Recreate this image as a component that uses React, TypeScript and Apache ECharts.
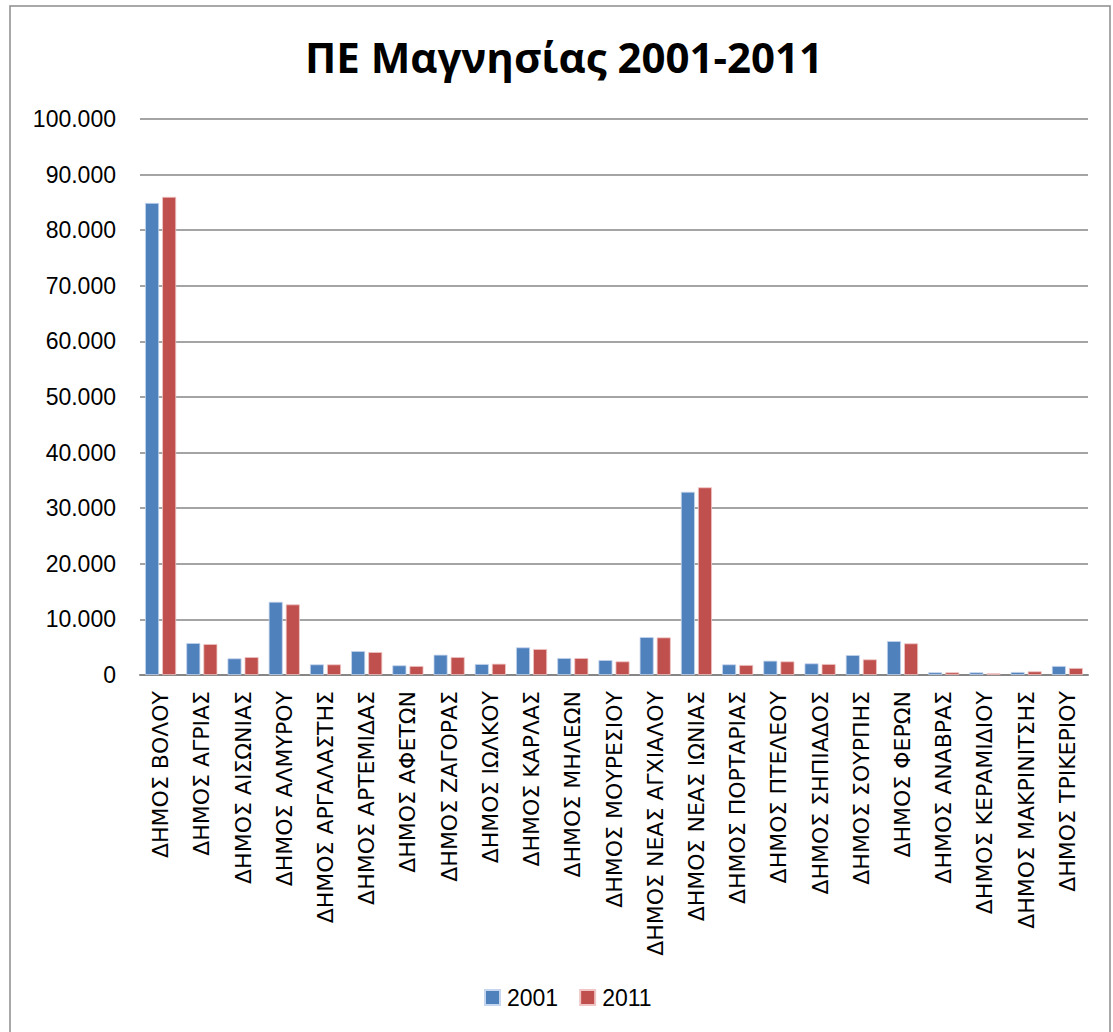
import React, { useEffect, useRef } from "react";
import * as echarts from "echarts";

const categories = [
  "ΔΗΜΟΣ ΒΟΛΟΥ", "ΔΗΜΟΣ ΑΓΡΙΑΣ", "ΔΗΜΟΣ ΑΙΣΩΝΙΑΣ", "ΔΗΜΟΣ ΑΛΜΥΡΟΥ", "ΔΗΜΟΣ ΑΡΓΑΛΑΣΤΗΣ",
  "ΔΗΜΟΣ ΑΡΤΕΜΙΔΑΣ", "ΔΗΜΟΣ ΑΦΕΤΩΝ", "ΔΗΜΟΣ ΖΑΓΟΡΑΣ", "ΔΗΜΟΣ ΙΩΛΚΟΥ", "ΔΗΜΟΣ ΚΑΡΛΑΣ",
  "ΔΗΜΟΣ ΜΗΛΕΩΝ", "ΔΗΜΟΣ ΜΟΥΡΕΣΙΟΥ", "ΔΗΜΟΣ ΝΕΑΣ ΑΓΧΙΑΛΟΥ", "ΔΗΜΟΣ ΝΕΑΣ ΙΩΝΙΑΣ", "ΔΗΜΟΣ ΠΟΡΤΑΡΙΑΣ",
  "ΔΗΜΟΣ ΠΤΕΛΕΟΥ", "ΔΗΜΟΣ ΣΗΠΙΑΔΟΣ", "ΔΗΜΟΣ ΣΟΥΡΠΗΣ", "ΔΗΜΟΣ ΦΕΡΩΝ", "ΔΗΜΟΣ ΑΝΑΒΡΑΣ",
  "ΔΗΜΟΣ ΚΕΡΑΜΙΔΙΟΥ", "ΔΗΜΟΣ ΜΑΚΡΙΝΙΤΣΗΣ", "ΔΗΜΟΣ ΤΡΙΚΕΡΙΟΥ",
];

const values2001 = [
  84900, 5750, 2990, 13170, 1910, 4310, 1740, 3650, 1975, 4970, 3050, 2690,
  6820, 32950, 1910, 2570, 2090, 3590, 6100, 480, 480, 540, 1620,
];

const values2011 = [
  86000, 5570, 3230, 12690, 1910, 4130, 1620, 3230, 2030, 4670, 3050, 2450,
  6760, 33750, 1800, 2450, 1975, 2810, 5690, 480, 300, 660, 1260,
];

const seriesNames = ["2001", "2011"];
const yMax = 100000;
const yInterval = 10000;

const TITLE_FONT = "'Open Sans', 'Noto Sans', sans-serif";
const FONT = "'Liberation Sans', Arial, sans-serif";
const XFONT = "'DejaVu Sans', sans-serif";

function fmt(v: number): string {
  return String(Math.round(v)).replace(/\B(?=(\d{3})+(?!\d))/g, ".");
}

export default function App() {
  const ref = useRef<HTMLDivElement>(null);
  useEffect(() => {
    if (!ref.current) return;
    const chart = echarts.init(ref.current, null, { renderer: "svg" });
    chart.setOption({
      animation: false,
      backgroundColor: "#ffffff",
      textStyle: { fontFamily: FONT },
      title: {
        text: "ΠΕ Μαγνησίας 2001-2011",
        left: 300,
        top: 30,
        textStyle: { fontFamily: TITLE_FONT, fontSize: 42, fontWeight: "bold", color: "#000" },
      },
      graphic: [
        {
          type: "rect",
          shape: { x: 10, y: 6, width: 1100, height: 1040 },
          style: { fill: "none", stroke: "#8c8c8c", lineWidth: 1.5 },
          silent: true,
          z: -1,
        },
      ],
      legend: {
        data: seriesNames,
        top: 981,
        left: 479,
        itemWidth: 15,
        itemHeight: 15,
        itemGap: 21,
        icon: "rect",
        textStyle: { fontFamily: FONT, fontSize: 23, color: "#000", padding: [0, 0, 0, 2] },
      },
      grid: { left: 140, right: 25, top: 119, bottom: 357, containLabel: false },
      xAxis: {
        type: "category",
        data: categories,
        axisLine: { show: true, lineStyle: { color: "#868686", width: 2 } },
        axisTick: { show: false },
        axisLabel: {
          rotate: 90,
          interval: 0,
          margin: 16,
          fontFamily: XFONT,
          fontSize: 22,
          color: "#000",
        },
      },
      yAxis: {
        type: "value",
        min: 0,
        max: yMax,
        interval: yInterval,
        axisLine: { show: false },
        axisTick: { show: false },
        splitLine: { lineStyle: { color: "#868686", width: 1.5 } },
        axisLabel: {
          formatter: (v: number) => fmt(v),
          fontFamily: FONT,
          fontSize: 23,
          color: "#000",
          margin: 24,
        },
      },
      series: [
        {
          name: seriesNames[0],
          type: "bar",
          data: values2001,
          barWidth: 14,
          barGap: "22%",
          itemStyle: { color: "#4f81bd", borderColor: "#c6d6ee", borderWidth: 0.8 },
        },
        {
          name: seriesNames[1],
          type: "bar",
          data: values2011,
          barWidth: 14,
          barGap: "22%",
          itemStyle: { color: "#c0504d", borderColor: "#efc6c5", borderWidth: 0.8 },
        },
      ],
    });
    return () => chart.dispose();
  }, []);
  return (
    <div
      ref={ref}
      style={{ position: "absolute", left: 0, top: 0, width: 1113, height: 1032 }}
    />
  );
}
